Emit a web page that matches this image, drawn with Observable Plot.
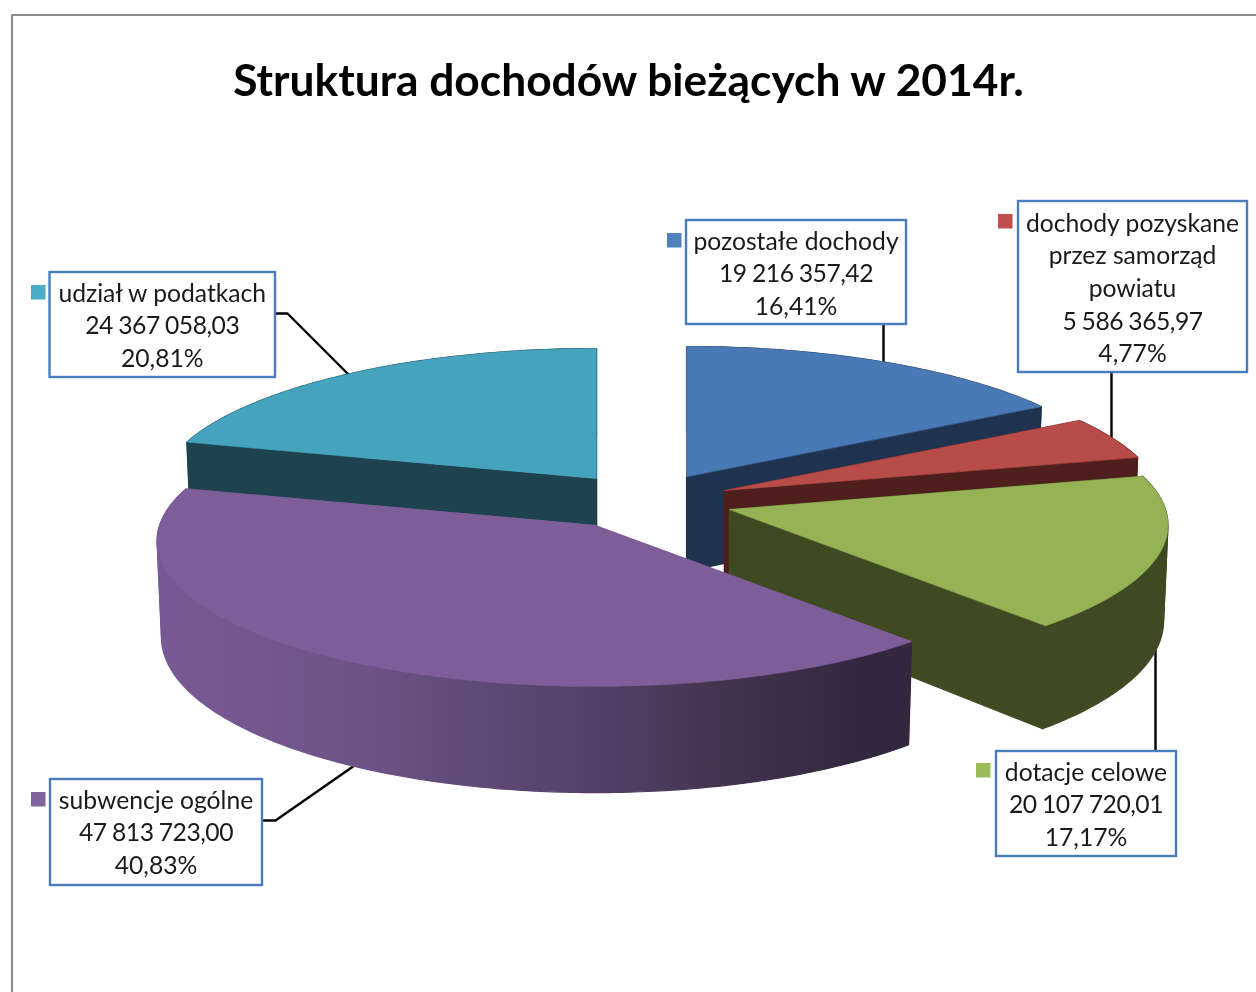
<!DOCTYPE html>
<html lang="pl">
<head>
<meta charset="utf-8">
<style>
  html, body { margin: 0; padding: 0; background: #fff; }
  svg { display: block; filter: blur(0.45px); }
  .valueRow text { letter-spacing: -0.5px; word-spacing: -0.5px; }
</style>
<script src="https://cdn.jsdelivr.net/npm/d3@7"></script>
<script src="https://cdn.jsdelivr.net/npm/@observablehq/plot@0.6"></script>
</head>
<body>
<div id="chart"></div>
<script>
// ---- data (clockwise from 12 o'clock) ----
const titleText = "Struktura dochodów bieżących w 2014r.";
const categories = ["pozostałe dochody", "dochody pozyskane", "dotacje celowe", "subwencje ogólne", "udział w podatkach"];
const labelLines = [
  ["pozostałe dochody"],
  ["dochody pozyskane", "przez samorząd", "powiatu"],
  ["dotacje celowe"],
  ["subwencje ogólne"],
  ["udział w podatkach"]
];
const values = [19216357.42, 5586365.97, 20107720.01, 47813723.00, 24367058.03];
const valueLabels = ["19 216 357,42", "5 586 365,97", "20 107 720,01", "47 813 723,00", "24 367 058,03"];
const percentLabels = ["16,41%", "4,77%", "17,17%", "40,83%", "20,81%"];
const topColors = ["#4a7ab5", "#b84c48", "#95b355", "#7d5e99", "#45a3bd"];
const wallColors = ["#1f3350", "#4e1f1d", "#3f4a23", "#7d5e99", "#1e434f"];
const legendColors = ["#4f81bd", "#c0504d", "#9bbb59", "#8064a2", "#4bacc6"];

// ---- layout of the exploded 3-D pie (canvas units) ----
const W = 1256, H = 992;
const radiusX = 436, radiusY = 143.8, tilt = 0.106, depth = 95, baseShrink = 0.99;
const sliceApex = [[686, 476], [724, 490], [729, 509], [595, 525], [596, 478]];
const paintOrder = [4, 0, 1, 2, 3];
const boxes = [
  {x1: 686, x2: 906, y1: 220, y2: 324, mx: 667, my: 233, base: 249},
  {x1: 1018, x2: 1247, y1: 201, y2: 372, mx: 998, my: 214, base: 231},
  {x1: 996, x2: 1176, y1: 751, y2: 856, mx: 976, my: 763, base: 780},
  {x1: 50, x2: 262, y1: 779, y2: 885, mx: 31, my: 792, base: 808},
  {x1: 49.5, x2: 275, y1: 272, y2: 377, mx: 31, my: 285, base: 301}
];
const leaders = [
  [[883, 325], [883, 366]],
  [[1111, 372], [1111, 442]],
  [[1155, 645], [1155, 751]],
  [[263, 820], [275, 820], [354, 765]],
  [[275, 313], [287, 313], [352, 378]]
];
const frame = [[11.5, 992], [11.5, 14.5], [1256, 14.5]];
const lineStep = 32.7;

// ---- geometry derived from the values ----
const arcs = d3.pie().sort(null).startAngle(0).endAngle(2 * Math.PI)(values);
const project = (i, a, bottom = false) => {
  const [cx, cy] = sliceApex[i];
  const X = Math.sin(a), Y = -Math.cos(a), s = 1 / (1 - tilt * Y);
  const k = bottom ? baseShrink : 1;
  return {x: cx + radiusX * X * s * k, y: cy + radiusY * Y * s + (bottom ? depth * s : 0)};
};
const apexTop = i => ({x: sliceApex[i][0], y: sliceApex[i][1]});
const apexBottom = i => ({x: sliceApex[i][0], y: sliceApex[i][1] + depth});
const rim = (i, bottom = false) => {
  const {startAngle: a0, endAngle: a1} = arcs[i];
  const n = Math.ceil((a1 - a0) / (Math.PI / 240));
  return d3.range(n + 1).map(j => project(i, a0 + (a1 - a0) * j / n, bottom));
};
// the outer wall is split where the rim turns back horizontally, so each
// piece is monotonic in x and its silhouette fills without cancelling out
const wallPieces = i => {
  const t = rim(i), b = rim(i, true);
  const cuts = [0];
  for (let j = 1; j < t.length - 1; ++j) {
    if ((t[j].x - t[j - 1].x) * (t[j + 1].x - t[j].x) < 0) cuts.push(j);
  }
  cuts.push(t.length - 1);
  return d3.pairs(cuts).map(([p, q]) => [...t.slice(p, q + 1), ...b.slice(p, q + 1).reverse()]);
};

const poly = (pts, color, strokeWidth = 0.6) =>
  Plot.line(pts, {x: "x", y: "y", fill: color, stroke: color, strokeWidth, curve: "linear-closed"});

const sliceMarks = paintOrder.flatMap(i => {
  const {startAngle: a0, endAngle: a1} = arcs[i];
  const wall = wallColors[i];
  const outer = i === 3 ? "url(#purpleWall)" : wall;
  return [
    poly([apexTop(i), project(i, a0), project(i, a0, true), apexBottom(i)], wall),
    poly([apexTop(i), project(i, a1), project(i, a1, true), apexBottom(i)], wall, 1.2),
    ...wallPieces(i).map(pts => poly(pts, outer, 1.2)),
    poly([apexTop(i), ...rim(i)], topColors[i])
  ];
});

// horizontal shading of the big slice's outer wall
const wallGradientSpan = [157, 910];
const wallStops = [[0, "#775a93"], [0.25, "#6f5488"], [0.42, "#604a78"], [0.58, "#544067"], [0.75, "#44334f"], [0.92, "#342840"], [1, "#33263f"]];
const gradientDefs = () => {
  const ns = "http://www.w3.org/2000/svg";
  const defs = document.createElementNS(ns, "defs");
  const g = document.createElementNS(ns, "linearGradient");
  g.setAttribute("id", "purpleWall");
  g.setAttribute("gradientUnits", "userSpaceOnUse");
  g.setAttribute("x1", wallGradientSpan[0]); g.setAttribute("x2", wallGradientSpan[1]);
  g.setAttribute("y1", "0"); g.setAttribute("y2", "0");
  for (const [o, c] of wallStops) {
    const s = document.createElementNS(ns, "stop");
    s.setAttribute("offset", o); s.setAttribute("stop-color", c);
    g.appendChild(s);
  }
  defs.appendChild(g);
  return defs;
};

// label rows
const rowsOf = (pick) => boxes.flatMap((b, i) => pick(i, b));
const nameRows = rowsOf((i, b) => labelLines[i].map((text, r) => ({text, x: (b.x1 + b.x2) / 2 - 0.5, y: b.base + r * lineStep})));
const valueRows = rowsOf((i, b) => [{text: valueLabels[i], x: (b.x1 + b.x2) / 2 - 0.5, y: b.base + labelLines[i].length * lineStep}]);
const percentRows = rowsOf((i, b) => [{text: percentLabels[i], x: (b.x1 + b.x2) / 2 - 0.5, y: b.base + (labelLines[i].length + 1) * lineStep}]);
const textStyle = {x: "x", y: "y", text: "text", fontSize: 24.7, fontFamily: "Lato", fontWeight: 400, fill: "#1a1a1a", textAnchor: "middle", lineAnchor: "bottom"};
const markerSize = 14.5;
const leaderMarks = leaders.map(pts =>
  Plot.line(pts, {x: d => d[0], y: d => d[1], stroke: "#000", strokeWidth: 2.4, curve: "linear"}));

const chart = Plot.plot({
  width: W, height: H,
  margin: 0,
  style: {background: "#fff", overflow: "visible"},
  x: {domain: [0, W], range: [0, W], axis: null},
  y: {domain: [0, H], range: [0, H], axis: null},
  marks: [
    gradientDefs,
    Plot.line(frame, {x: d => d[0], y: d => d[1], stroke: "#8c8c8c", strokeWidth: 2.2}),
    Plot.text([titleText], {
      x: () => 628, y: () => 95, text: d => d, fontSize: 44.3, fontWeight: 700,
      fontFamily: "Lato", fill: "#000", textAnchor: "middle", lineAnchor: "bottom"
    }),
    ...leaderMarks,
    ...sliceMarks,
    Plot.rect(boxes, {x1: "x1", x2: "x2", y1: "y1", y2: "y2", fill: "#fff", stroke: "#4a7ebb", strokeWidth: 2.4}),
    Plot.rect(boxes, {
      x1: "mx", x2: d => d.mx + markerSize, y1: "my", y2: d => d.my + markerSize,
      fill: (d, i) => legendColors[i]
    }),
    Plot.text(nameRows, textStyle),
    Plot.text(valueRows, {...textStyle, className: "valueRow"}),
    Plot.text(percentRows, textStyle)
  ]
});
document.getElementById("chart").appendChild(chart);
</script>
</body>
</html>
